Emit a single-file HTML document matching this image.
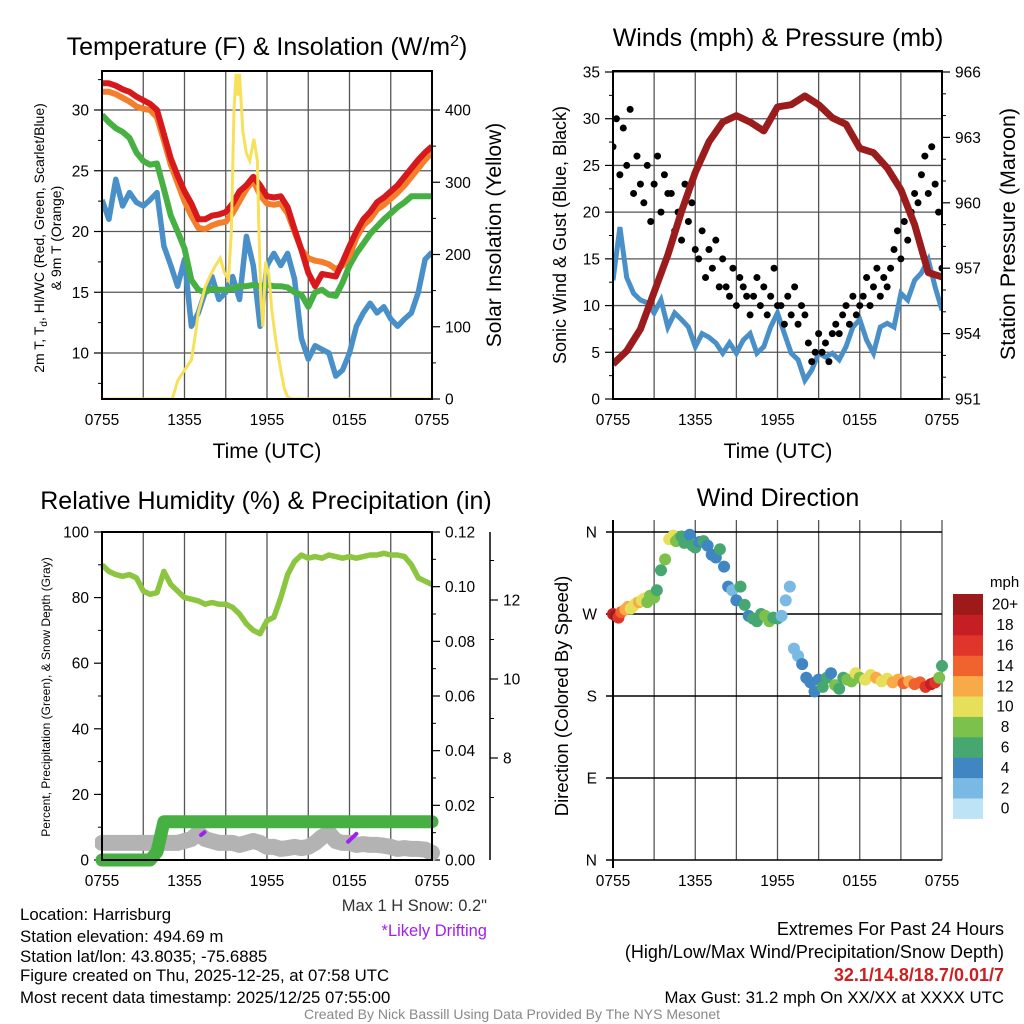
<!DOCTYPE html>
<html><head><meta charset="utf-8"><style>
html,body{margin:0;padding:0;background:#fff;}
svg{display:block;font-family:"Liberation Sans",Arial,sans-serif;}
</style></head><body>
<svg id="chart" width="1024" height="1024" viewBox="0 0 1024 1024" xmlns="http://www.w3.org/2000/svg">
<defs>
<clipPath id="c1"><rect x="102" y="71" width="330" height="328"/></clipPath>
<clipPath id="c2"><rect x="613" y="71" width="329" height="328"/></clipPath>
<clipPath id="c3"><rect x="95" y="525" width="345" height="345"/></clipPath>
</defs>
<g id="root"></g>
<text x="267" y="55" font-size="25" text-anchor="middle">Temperature (F) &amp; Insolation (W/m<tspan dy="-9" font-size="16">2</tspan><tspan dy="9">)</tspan></text>
<text transform="translate(44,238) rotate(-90)" font-size="14" text-anchor="middle">2m T, T<tspan dy="3" font-size="10">d</tspan><tspan dy="-3">, HI/WC (Red, Green, Scarlet/Blue)</tspan></text>
<text transform="translate(61,238) rotate(-90)" font-size="14" text-anchor="middle">&amp; 9m T (Orange)</text>
<text transform="translate(501,235) rotate(-90)" font-size="21" text-anchor="middle">Solar Insolation (Yellow)</text>
<text x="267" y="458" font-size="21" text-anchor="middle">Time (UTC)</text>

<text x="778" y="46" font-size="25" text-anchor="middle">Winds (mph) &amp; Pressure (mb)</text>
<text transform="translate(566,235) rotate(-90)" font-size="18" text-anchor="middle">Sonic Wind &amp; Gust (Blue, Black)</text>
<text transform="translate(1015,234) rotate(-90)" font-size="21.5" text-anchor="middle">Station Pressure (Maroon)</text>
<text x="778" y="458" font-size="21" text-anchor="middle">Time (UTC)</text>

<text x="266" y="509" font-size="25" text-anchor="middle">Relative Humidity (%) &amp; Precipitation (in)</text>
<text transform="translate(50,697) rotate(-90)" font-size="12" text-anchor="middle">Percent, Precipitation (Green), &amp; Snow Depth (Gray)</text>

<text x="778" y="506" font-size="25" text-anchor="middle">Wind Direction</text>
<text transform="translate(568,696) rotate(-90)" font-size="18.5" text-anchor="middle">Direction (Colored By Speed)</text>
<text x="990" y="587" font-size="15">mph</text>

<g font-size="16.8">
<text x="20" y="920">Location: Harrisburg</text>
<text x="20" y="942">Station elevation: 494.69 m</text>
<text x="20" y="962">Station lat/lon: 43.8035; -75.6885</text>
<text x="20" y="981">Figure created on Thu, 2025-12-25, at 07:58 UTC</text>
<text x="20" y="1003">Most recent data timestamp: 2025/12/25 07:55:00</text>
</g>
<text x="487" y="911" font-size="16.5" text-anchor="end" fill="#333">Max 1 H Snow: 0.2"</text>
<text x="487" y="936" font-size="16.5" text-anchor="end" fill="#a020f0">*Likely Drifting</text>
<g font-size="18" text-anchor="end">
<text x="1004" y="935">Extremes For Past 24 Hours</text>
<text x="1004" y="958">(High/Low/Max Wind/Precipitation/Snow Depth)</text>
<text x="1004" y="981" fill="#cc1f1f" font-weight="bold">32.1/14.8/18.7/0.01/7</text>
<text x="1004" y="1003" font-size="16.8">Max Gust: 31.2 mph On XX/XX at XXXX UTC</text>
</g>
<text x="512" y="1019" font-size="14" fill="#888" text-anchor="middle">Created By Nick Bassill Using Data Provided By The NYS Mesonet</text>
</svg>
<script>
const timeTicks = ["0755","1355","1955","0155","0755"];
const tempRed = [32.2,32.2,32.0,31.7,31.5,31.1,30.8,30.5,30.0,28.0,26.0,24.6,23.3,22.3,21.0,21.0,21.3,21.4,21.6,22.3,23.3,23.8,24.5,23.8,22.9,22.8,22.9,22.0,20.2,18.5,16.6,15.5,16.5,16.4,16.3,17.5,18.8,20.0,21.0,21.6,22.4,22.8,23.3,23.8,24.5,25.2,25.9,26.5,27.0];
const tempOrange = [31.5,31.5,31.3,31.0,30.7,30.3,30.1,30.0,29.4,27.5,25.5,24.0,22.5,21.3,20.3,20.2,20.5,20.7,20.8,21.5,22.5,23.5,24.2,23.0,22.3,22.2,22.3,21.5,20.0,18.5,17.8,17.6,17.5,17.3,16.9,17.2,18.0,19.5,20.5,21.0,21.8,22.2,22.7,23.2,23.8,24.5,25.2,25.9,26.5];
const tempGreen = [29.6,29.0,28.5,28.2,27.7,26.5,25.8,25.5,25.6,23.5,21.3,20.0,18.6,16.0,15.2,15.0,15.3,15.2,15.2,15.3,15.5,15.5,15.6,15.5,15.6,15.5,15.5,15.4,15.0,14.8,13.8,15.0,15.2,14.8,14.7,15.8,17.2,18.2,19.0,19.8,20.4,21.0,21.5,22.0,22.4,22.9,22.9,22.9,22.9];
const dewBlue = [22.6,21.0,24.3,22.1,23.2,22.4,22.1,22.6,23.2,18.8,17.2,15.5,17.7,12.2,13.3,15.0,16.3,14.4,15.0,16.3,14.4,19.6,17.2,12.2,17.2,18.2,17.2,18.2,16.1,11.2,9.5,10.6,10.3,10.0,8.1,8.6,10.0,12.2,13.3,14.1,13.3,13.8,12.8,12.2,12.8,13.3,15.0,17.7,18.3];
const solarHours = [0,5.1,5.3,5.5,6.0,6.5,6.8,7.0,7.3,7.5,7.85,8.2,8.6,8.9,9.2,9.4,9.6,9.75,9.9,10.0,10.25,10.5,10.75,11.05,11.3,11.4,11.55,11.7,11.9,12.15,12.35,12.65,12.95,13.25,13.5,13.8,24];
const solarValues = [0,0,12,25,40,54,90,120,140,155,170,183,195,175,165,230,400,450,420,450,370,340,330,360,330,240,140,100,190,170,123,80,45,15,3,0,0];
const windBlue = [12.7,18.4,13,11.3,10.6,10.3,9.2,10.6,7.7,9.2,8.5,7.7,5.6,7,6.6,6,4.9,6,4.9,6.3,7,4.9,5.6,7.7,9.2,7,4.9,4.2,2,3.1,4.9,4.5,4.9,4.2,5.6,7.7,8.5,6.3,4.9,7.7,8.1,7.7,11.3,10.6,12.7,13.5,14.9,12,9.5];
const gustBlack = [27,30,24,29,25,31,22,26,23, 21,25,19,23,26,20,24,22, 22,18,20,17,23,19,21,16, 15,18,13,16,14,17,12,15, 12,11,14,10,13,12,11,9, 11,13,10,12,9,11,14,10, 10,8,11,9,12,8,10,9, 6,4,5,7,5,6,4,7, 8,7,9,10,8,11,9,10, 11,13,10,12,14,11,13,12, 14,16,18,15,19,17,20,22, 21,24,26,22,27,23,20,14];
const pressure = [952.6,953.2,954.2,955.9,957.6,959.6,961.4,962.8,963.7,964.0,963.7,963.3,964.4,964.5,964.9,964.5,963.9,963.6,962.5,962.3,961.6,960.6,959.0,956.8,956.6];
const rhGreen = [90,88,87,86.5,87,86,82,81,81.5,88,84,82,80,79.5,79,78,78.5,78,78,77,75,72,70,69,73,74,80,87,91,93,92,92.5,92,93,92.5,92,92.5,92,92.5,93,93,93.5,93,93,92.5,90,86,85,84];
const precip = [0,0,0,0,0,0,0,0,0.003,0.014,0.014,0.014,0.014,0.014,0.014,0.014,0.014,0.014,0.014,0.014,0.014,0.014,0.014,0.014,0.014,0.014,0.014,0.014,0.014,0.014,0.014,0.014,0.014,0.014,0.014,0.014,0.014,0.014,0.014,0.014,0.014,0.014,0.014,0.014,0.014,0.014,0.014,0.014,0.014];
const snowDepth = [5.85,5.85,5.85,5.85,5.85,5.85,5.85,5.85,5.85,5.85,5.85,5.85,5.9,5.95,6.1,5.95,5.9,5.85,5.85,5.85,5.8,5.85,5.9,5.85,5.75,5.75,5.7,5.72,5.75,5.72,5.75,5.85,6.0,6.1,5.9,5.85,5.85,5.8,5.82,5.8,5.8,5.78,5.75,5.7,5.72,5.7,5.7,5.68,5.6];
const dirHours = [0,0.2,0.4,0.6,0.9,1.1,1.3,1.5,1.7,1.9,2.1,2.3,2.5,2.7,3.0,3.2,3.5,3.8,4.1,4.4,4.6,4.8,5.0,5.2,5.4,5.6,5.8,6.0,6.3,6.6,6.9,7.2,7.5,7.8,8.1,8.4,8.7,9.0,9.3,9.6,9.9,10.2,10.5,10.8,11.1,11.4,11.7,12.0,12.3,12.6,12.9,13.2,13.5,13.8,14.1,14.4,14.7,15.0,15.3,15.6,15.9,16.2,16.5,16.8,17.1,17.4,17.7,18.0,18.4,18.8,19.2,19.6,20.0,20.4,20.8,21.2,21.6,22.0,22.4,22.8,23.2,23.5,23.8,24.0];
const dirValues = [270,268,266,272,275,278,276,279,282,283,285,287,283,290,288,296,318,330,352,356,350,353,355,348,350,357,345,343,349,350,345,335,332,341,322,300,296,285,300,280,268,265,262,270,268,262,266,265,268,285,300,232,224,215,200,195,185,198,190,200,205,192,188,200,198,196,205,200,198,203,200,196,199,195,198,194,196,193,195,190,193,195,200,213];
const dirSpeeds = [18,20,16,14,12,13,10,11,10,12,10,11,8,9,8,7,7,8,10,10,9,8,7,7,6,5,6,7,5,6,5,4,5,6,4,4,3,4,6,7,5,6,7,6,9,8,6,7,3,2,2,2,3,4,4,5,4,4,6,6,4,8,6,7,8,8,10,9,10,11,12,10,11,12,13,14,12,15,14,16,18,17,9,7];
const speedBins = ["0","2","4","6","8","10","12","14","16","18","20+"];
const speedColors = ["#bde3f7","#7ab9e3","#3f86c2","#46a870","#7cc14c","#e6df5a","#f8aa48","#f0622e","#e0352a","#c51f25","#9e1a1a"];

const NS="http://www.w3.org/2000/svg";
const root=document.getElementById('root');
function el(tag,attrs,parent){const e=document.createElementNS(NS,tag);for(const k in attrs)e.setAttribute(k,attrs[k]);(parent||root).appendChild(e);return e;}
function lin(d0,d1,r0,r1){return v=>r0+(v-d0)*(r1-r0)/(d1-d0);}
function pathFrom(xs,ys){return xs.map((x,i)=>(i?'L':'M')+x.toFixed(1)+','+ys[i].toFixed(1)).join('');}

function xAxis(g,x0,x1,yb,top){
  const xs=lin(0,24,x0,x1);
  for(let h=0;h<=24;h+=3){
    const gl=el('line',{x1:xs(h),x2:xs(h),y1:top,y2:yb,stroke:'#555','stroke-width':1.3},g);
    
    
  }
  timeTicks.forEach((t,i)=>{
    const tx=el('text',{x:xs(i*6),y:yb+26,'font-size':15.5,'text-anchor':'middle'},g);
    tx.textContent=t;
    
    
  });
  return xs;
}
function yAxis(g,x,ys,ticks,minors,side,fmt,grid,gx0,gx1){
  const dir=side==='left'?-1:1;
  minors.forEach(v=>el('line',{x1:x,x2:x+dir*4,y1:ys(v),y2:ys(v),stroke:'#000','stroke-width':1},g));
  ticks.forEach(v=>{
    if(grid){const gl=el('line',{x1:gx0,x2:gx1,y1:ys(v),y2:ys(v),stroke:'#555','stroke-width':1.3},g);
      
      }
    el('line',{x1:x,x2:x+dir*8,y1:ys(v),y2:ys(v),stroke:'#000','stroke-width':1.2},g);
    const t=el('text',{x:x+dir*13,y:ys(v)+5.5,'font-size':15.5,'text-anchor':side==='left'?'end':'start'},g);
    t.textContent=fmt(v);
    
    
  });
}
const half=[...Array(49).keys()].map(i=>i/2);
const hourly=[...Array(25).keys()];

(function(){
  const g=el('g',{});
  
  
  const xs=xAxis(g,102,432,399,71);
  const yT=lin(10,30,353,110);
  const yS=lin(0,400,399,110);
  yAxis(g,102,yT,[10,15,20,25,30],[7.5,12.5,17.5,22.5,27.5,32.5],'left',v=>v,true,102,432);
  yAxis(g,432,yS,[0,100,200,300,400],[50,150,250,350],'right',v=>v,false);
  const cg=el('g',{'clip-path':'url(#c1)'},g);
  const series=[[dewBlue,'#4a90c8',5.5,'dewpoint-line'],[tempGreen,'#46b043',6,'heat-index-line'],[tempOrange,'#f37f2c',6,'9m-temperature-line'],[tempRed,'#d7191c',6,'2m-temperature-line']];
  series.forEach(s=>{
    const p=el('path',{d:pathFrom(half.map(xs),s[0].map(yT)),fill:'none',stroke:s[1],'stroke-width':s[2],'stroke-linejoin':'round'},cg);
    
    
  });
  const sp=el('path',{d:pathFrom(solarHours.map(xs),solarValues.map(yS)),fill:'none',stroke:'#f7e15a','stroke-width':3},cg);
  
  
  el('rect',{x:102,y:71,width:330,height:328,fill:'none',stroke:'#000','stroke-width':2},g);
})();

(function(){
  const g=el('g',{});
  
  
  const xs=xAxis(g,613,942,399,71);
  const yW=lin(0,35,399,72);
  const yP=lin(951,966,399,72);
  yAxis(g,613,yW,[0,5,10,15,20,25,30,35],[2.5,7.5,12.5,17.5,22.5,27.5,32.5],'left',v=>v,true,613,942);
  yAxis(g,942,yP,[951,954,957,960,963,966],[952,953,955,956,958,959,961,962,964,965],'right',v=>v,false);
  const cg=el('g',{'clip-path':'url(#c2)'},g);
  const wl=el('path',{d:pathFrom(half.map(xs),windBlue.map(yW)),fill:'none',stroke:'#4a90c8','stroke-width':5},cg);
  
  
  gustBlack.forEach((v,i)=>{
    const c=el('circle',{cx:xs(i/4),cy:yW(v),r:3.5,fill:'#000'},cg);
    
    
  });
  const pl=el('path',{d:pathFrom(hourly.map(xs),pressure.map(yP)),fill:'none',stroke:'#9b1c1c','stroke-width':7,'stroke-linejoin':'round'},cg);
  
  
  el('rect',{x:613,y:71,width:329,height:328,fill:'none',stroke:'#000','stroke-width':2},g);
})();

(function(){
  const g=el('g',{});
  
  
  const xs=xAxis(g,102,432,860,532);
  const yR=lin(0,100,860,532);
  const yPr=lin(0,0.12,860,532);
  const ySn=lin(8,12,758,600);
  yAxis(g,102,yR,[0,20,40,60,80,100],[10,30,50,70,90],'left',v=>v,false);
  yAxis(g,432,yPr,[0,0.02,0.04,0.06,0.08,0.10,0.12],[0.01,0.03,0.05,0.07,0.09,0.11],'right',v=>v.toFixed(2),false);
  el('line',{x1:490,x2:490,y1:532,y2:860,stroke:'#000','stroke-width':1.5},g);
  yAxis(g,490,ySn,[8,10,12],[7,9,11,13],'right',v=>v,false);
  const cg=el('g',{'clip-path':'url(#c3)'},g);
  const sn=el('path',{d:pathFrom(half.map(xs),snowDepth.map(ySn)),fill:'none',stroke:'#b3b3b3','stroke-width':16,'stroke-linecap':'round','stroke-linejoin':'round'},cg);
  
  
  const pr=el('path',{d:pathFrom(half.map(xs),precip.map(yPr)),fill:'none',stroke:'#46b043','stroke-width':13,'stroke-linecap':'round','stroke-linejoin':'round'},cg);
  
  
  const d1=el('path',{d:'M'+xs(7.2)+','+ySn(6.05)+'L'+xs(7.45)+','+ySn(6.12),stroke:'#a020f0','stroke-width':4,'stroke-linecap':'round'},cg);
  
  
  const d2=el('path',{d:'M'+xs(17.9)+','+ySn(5.88)+'L'+xs(18.5)+','+ySn(6.08),stroke:'#a020f0','stroke-width':4,'stroke-linecap':'round'},cg);
  
  
  const rl=el('path',{d:pathFrom(half.map(xs),rhGreen.map(yR)),fill:'none',stroke:'#8cc640','stroke-width':5.5,'stroke-linejoin':'round'},cg);
  
  
  el('rect',{x:102,y:532,width:330,height:328,fill:'none',stroke:'#000','stroke-width':2},g);
})();

(function(){
  const g=el('g',{});
  
  
  const xs=lin(0,24,613,942);
  const yD=lin(0,360,860,532);
  for(let h=0;h<=24;h+=3){el('line',{x1:xs(h),x2:xs(h),y1:520,y2:860,stroke:'#555','stroke-width':1.3},g);}
  timeTicks.forEach((t,i)=>{
    const tx=el('text',{x:xs(i*6),y:886,'font-size':15.5,'text-anchor':'middle'},g);
    tx.textContent=t;
    
    
  });
  const dl=["N","E","S","W","N"];
  [0,90,180,270,360].forEach((v,i)=>{
    el('line',{x1:606,x2:942,y1:yD(v),y2:yD(v),stroke:'#000','stroke-width':1.5},g);
    const t=el('text',{x:597,y:yD(v)+5.5,'font-size':15.5,'text-anchor':'end'},g);
    t.textContent=dl[i];
    
    
  });
  el('line',{x1:613,x2:613,y1:520,y2:868,stroke:'#000','stroke-width':2},g);
  dirValues.forEach((v,i)=>{
    const b=Math.min(10,Math.floor(dirSpeeds[i]/2));
    const c=el('circle',{cx:xs(dirHours[i]),cy:yD(v),r:6,fill:speedColors[b]},g);
    
    
  });
  const cb=el('g',{},g);
  
  
  const bh=20.4;
  speedBins.forEach((lab,i)=>{
    const j=10-i;
    const y=594+j*bh;
    el('rect',{x:953,y:y,width:30,height:bh+0.5,fill:speedColors[i]},cb);
    const t=el('text',{x:1005,y:y+bh/2+5.5,'font-size':15.5,'text-anchor':'middle'},cb);
    t.textContent=lab;
    
    
  });
})();
</script>
</body></html>
